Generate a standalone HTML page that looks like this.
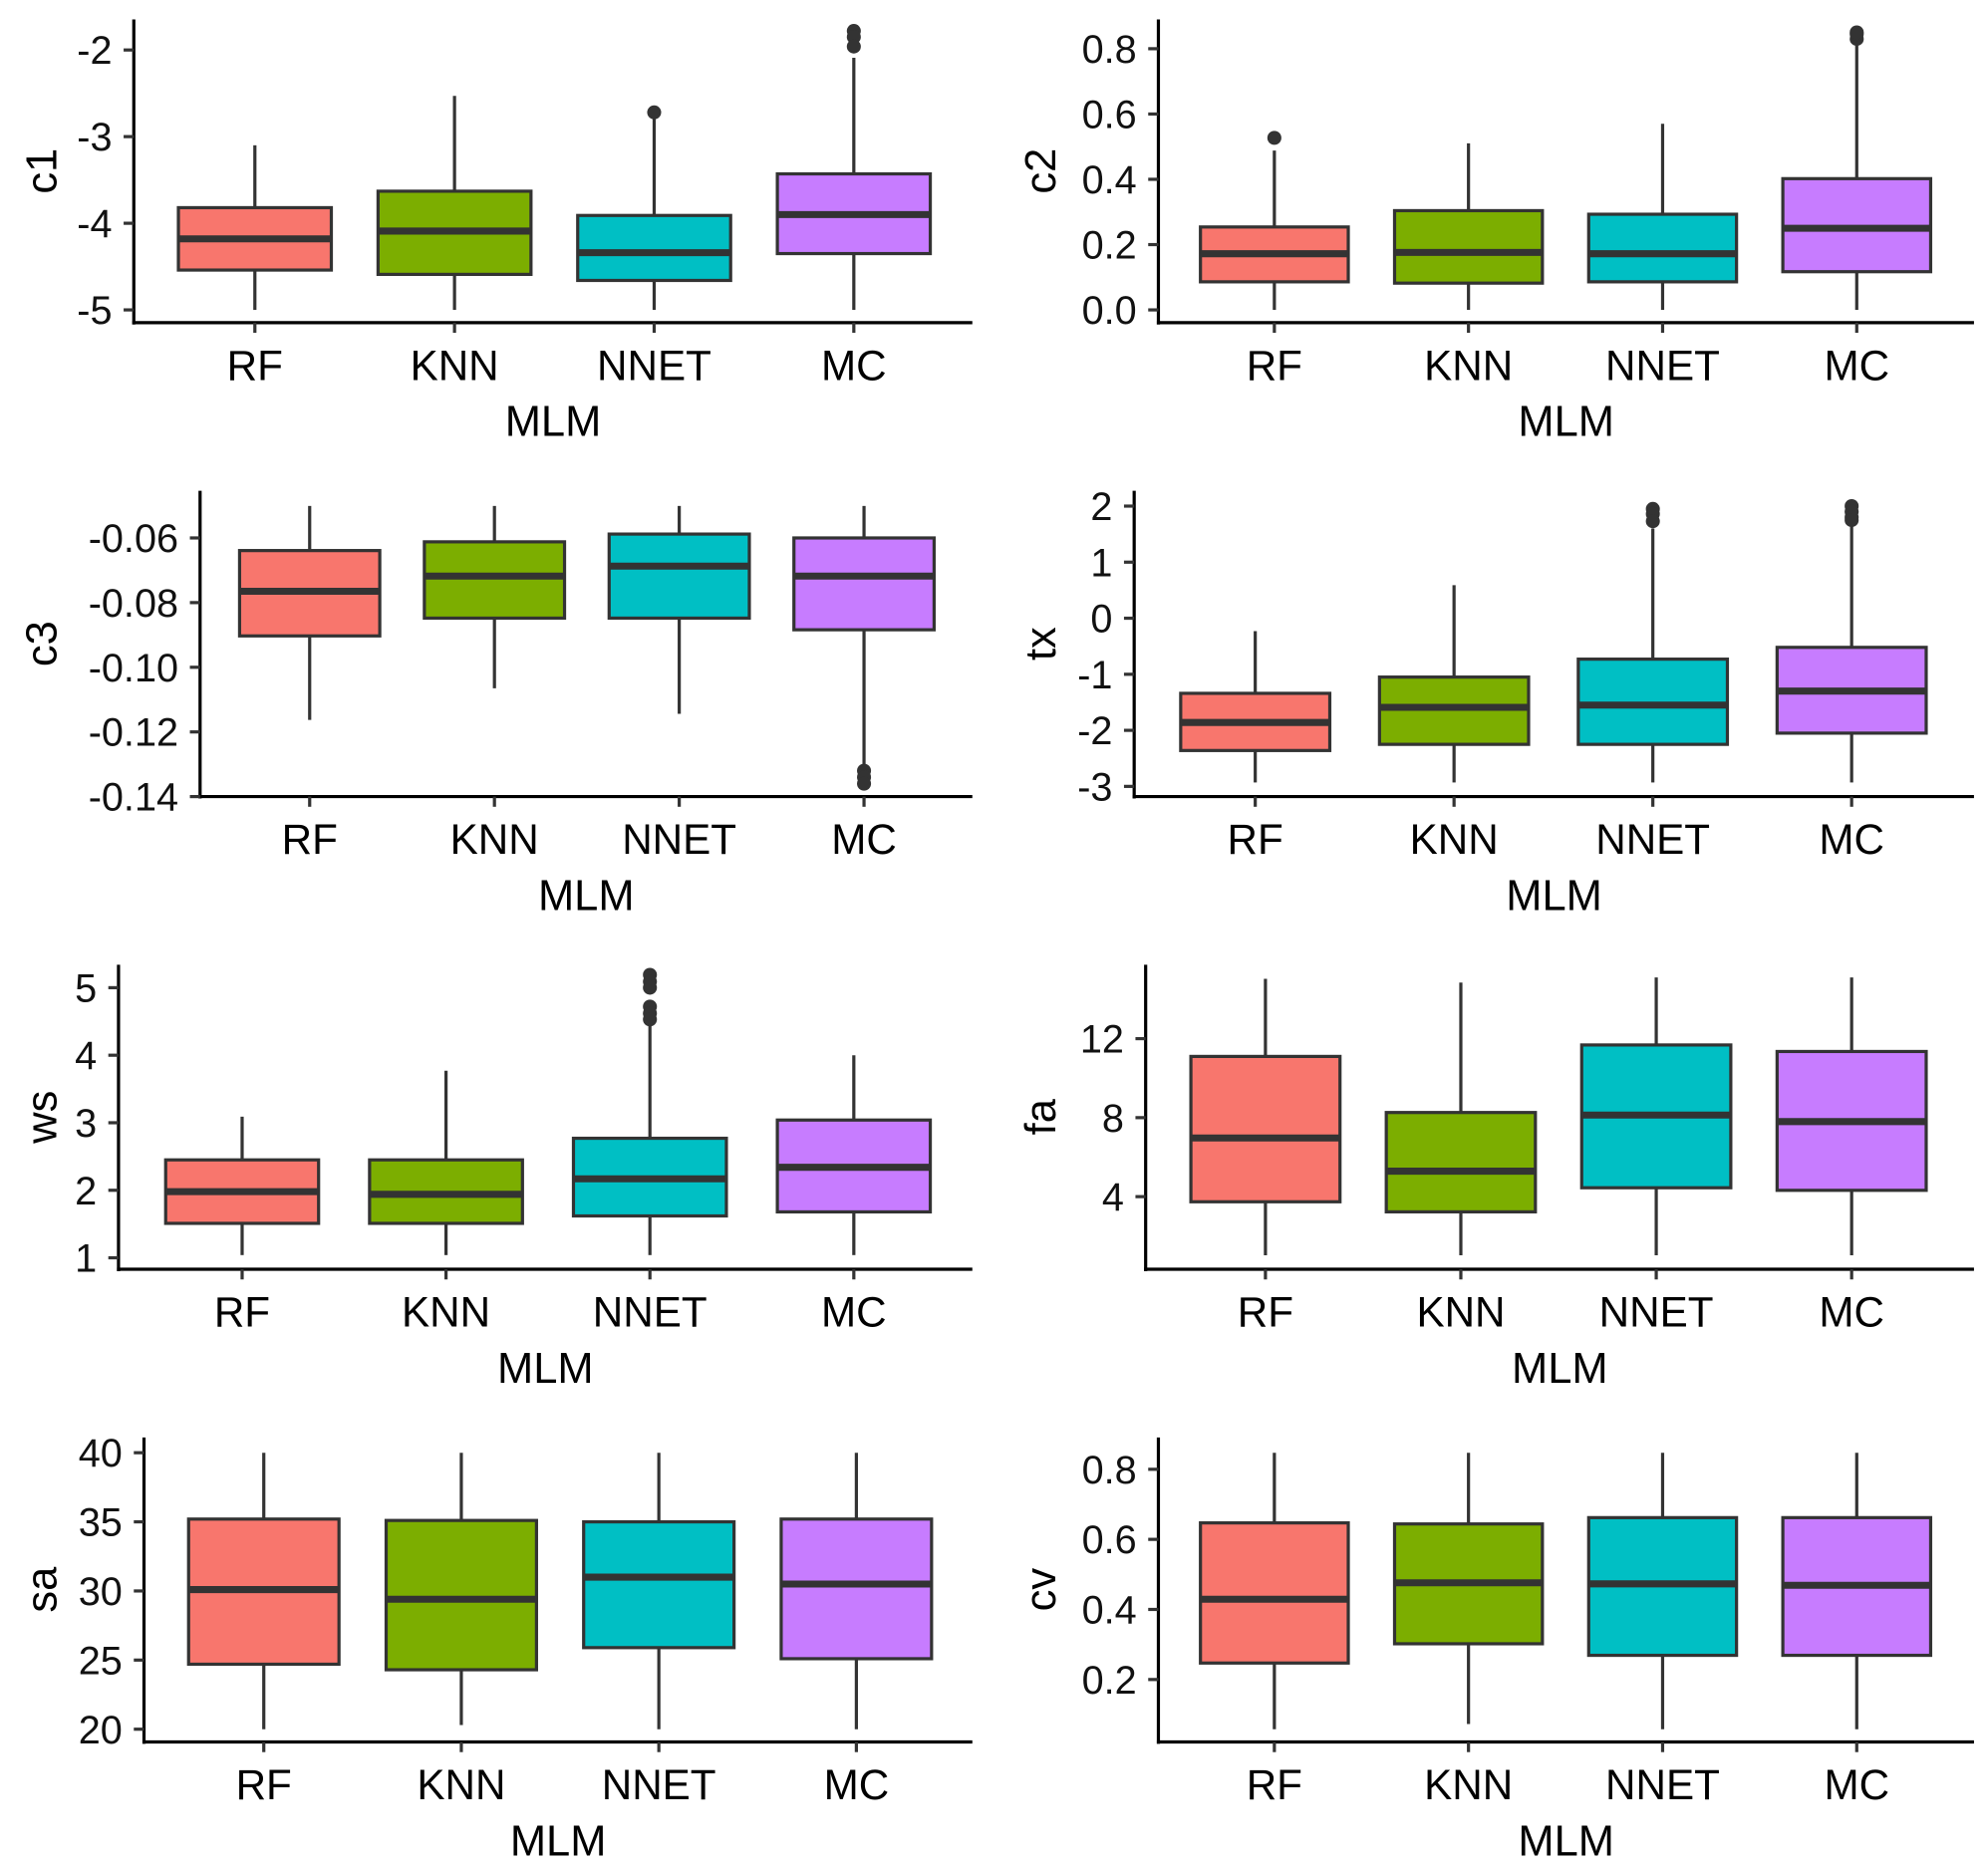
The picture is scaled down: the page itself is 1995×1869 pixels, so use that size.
<!DOCTYPE html>
<html><head><meta charset="utf-8"><style>
html,body{margin:0;padding:0;background:#fff;}
svg{display:block;font-family:"Liberation Sans",Arial,sans-serif;}
</style></head><body>
<svg id="chart" width="1995" height="1869" viewBox="0 0 1560 1461" xmlns="http://www.w3.org/2000/svg"></svg>
<script>
const categories = ["RF","KNN","NNET","MC"];
const colors = ["#F8766D","#7CAE00","#00BFC4","#C77CFF"];

// c1
const c1Lower = [-5,-5,-5,-5];
const c1Q1 = [-4.54,-4.59,-4.66,-4.35];
const c1Median = [-4.18,-4.09,-4.34,-3.9];
const c1Q3 = [-3.82,-3.63,-3.91,-3.43];
const c1Upper = [-3.1,-2.53,-2.79,-2.09];
const c1Outliers = [[],[],[-2.72],[-1.78,-1.85,-1.96]];
const c1Ticks = [-2,-3,-4,-5];
// c2
const c2Lower = [0,0,0,0];
const c2Q1 = [0.086,0.082,0.086,0.117];
const c2Median = [0.172,0.176,0.172,0.25];
const c2Q3 = [0.254,0.304,0.293,0.402];
const c2Upper = [0.488,0.51,0.57,0.81];
const c2Outliers = [[0.527],[],[],[0.83,0.845,0.85]];
const c2Ticks = [0.0,0.2,0.4,0.6,0.8];
// c3
const c3Lower = [-0.1163,-0.1065,-0.1144,-0.130];
const c3Q1 = [-0.0903,-0.0848,-0.0848,-0.0884];
const c3Median = [-0.0765,-0.0718,-0.0687,-0.0718];
const c3Q3 = [-0.0639,-0.0612,-0.0588,-0.06];
const c3Upper = [-0.0501,-0.0501,-0.0501,-0.0501];
const c3Outliers = [[],[],[],[-0.132,-0.134,-0.136]];
const c3Ticks = [-0.06,-0.08,-0.10,-0.12,-0.14];
// tx
const txLower = [-2.93,-2.93,-2.93,-2.93];
const txQ1 = [-2.36,-2.25,-2.25,-2.05];
const txMedian = [-1.86,-1.59,-1.55,-1.3];
const txQ3 = [-1.34,-1.05,-0.73,-0.52];
const txUpper = [-0.23,0.59,1.6,1.65];
const txOutliers = [[],[],[1.95,1.86,1.73],[2.0,1.9,1.8,1.75]];
const txTicks = [2,1,0,-1,-2,-3];
// ws
const wsLower = [1.04,1.04,1.04,1.04];
const wsQ1 = [1.51,1.51,1.62,1.68];
const wsMedian = [1.98,1.94,2.17,2.34];
const wsQ3 = [2.45,2.45,2.77,3.04];
const wsUpper = [3.09,3.77,4.43,4.0];
const wsOutliers = [[],[],[5.19,5.09,5.0,4.72,4.62,4.53],[]];
const wsTicks = [5,4,3,2,1];
// fa
const faLower = [1.03,1.03,1.03,1.03];
const faQ1 = [3.74,3.23,4.45,4.32];
const faMedian = [6.97,5.29,8.13,7.8];
const faQ3 = [11.1,8.26,11.68,11.35];
const faUpper = [15.03,14.84,15.1,15.1];
const faOutliers = [[],[],[],[]];
const faTicks = [12,8,4];
// sa
const saLower = [20,20.3,20,20];
const saQ1 = [24.7,24.3,25.9,25.1];
const saMedian = [30.1,29.4,31,30.5];
const saQ3 = [35.2,35.1,35,35.2];
const saUpper = [40,40,40,40];
const saOutliers = [[],[],[],[]];
const saTicks = [40,35,30,25,20];
// cv
const cvLower = [0.058,0.073,0.058,0.058];
const cvQ1 = [0.247,0.302,0.269,0.269];
const cvMedian = [0.429,0.476,0.473,0.469];
const cvQ3 = [0.647,0.644,0.662,0.662];
const cvUpper = [0.847,0.847,0.847,0.847];
const cvOutliers = [[],[],[],[]];
const cvTicks = [0.8,0.6,0.4,0.2];

const NS="http://www.w3.org/2000/svg";
const svg=document.getElementById('chart');
function mk(tag,attrs,parent){const e=document.createElementNS(NS,tag);for(const k in attrs)e.setAttribute(k,attrs[k]);parent.appendChild(e);return e;}

const panels=[
 {name:"c1",lo:c1Lower,q1:c1Q1,med:c1Median,q3:c1Q3,up:c1Upper,out:c1Outliers,ticks:c1Ticks,fmt:v=>String(v),
  left:105,right:763,top:15,bottom:253,v0:-2,p0:39,v1:-5,p1:243,cx0:200,cx1:670,bw:120,tb:44},
 {name:"c2",lo:c2Lower,q1:c2Q1,med:c2Median,q3:c2Q3,up:c2Upper,out:c2Outliers,ticks:c2Ticks,fmt:v=>v.toFixed(1),
  left:909,right:1549,top:15,bottom:253,v0:0,p0:243,v1:0.8,p1:38,cx0:1000,cx1:1457,bw:116,tb:828},
 {name:"c3",lo:c3Lower,q1:c3Q1,med:c3Median,q3:c3Q3,up:c3Upper,out:c3Outliers,ticks:c3Ticks,fmt:v=>v.toFixed(2),
  left:157,right:763,top:385,bottom:625,v0:-0.06,p0:422,v1:-0.14,p1:625,cx0:243,cx1:678,bw:110,tb:44},
 {name:"tx",lo:txLower,q1:txQ1,med:txMedian,q3:txQ3,up:txUpper,out:txOutliers,ticks:txTicks,fmt:v=>String(v),
  left:890,right:1549,top:385,bottom:625,v0:2,p0:397,v1:-3,p1:617,cx0:985,cx1:1453,bw:117,tb:828},
 {name:"ws",lo:wsLower,q1:wsQ1,med:wsMedian,q3:wsQ3,up:wsUpper,out:wsOutliers,ticks:wsTicks,fmt:v=>String(v),
  left:93,right:763,top:757,bottom:996,v0:5,p0:775,v1:1,p1:987,cx0:190,cx1:670,bw:120,tb:44},
 {name:"fa",lo:faLower,q1:faQ1,med:faMedian,q3:faQ3,up:faUpper,out:faOutliers,ticks:faTicks,fmt:v=>String(v),
  left:899,right:1549,top:757,bottom:996,v0:12,p0:815,v1:4,p1:939,cx0:993,cx1:1453,bw:117,tb:828},
 {name:"sa",lo:saLower,q1:saQ1,med:saMedian,q3:saQ3,up:saUpper,out:saOutliers,ticks:saTicks,fmt:v=>String(v),
  left:113,right:763,top:1128,bottom:1367,v0:40,p0:1140,v1:20,p1:1357,cx0:207,cx1:672,bw:118,tb:44},
 {name:"cv",lo:cvLower,q1:cvQ1,med:cvMedian,q3:cvQ3,up:cvUpper,out:cvOutliers,ticks:cvTicks,fmt:v=>v.toFixed(1),
  left:909,right:1549,top:1128,bottom:1367,v0:0.8,p0:1153,v1:0.2,p1:1318,cx0:1000,cx1:1457,bw:116,tb:828}
];

panels.forEach(p=>{
  const g=mk('g',{},svg);
  
  
  const y=v=>p.p0+(v-p.v0)*(p.p1-p.p0)/(p.v1-p.v0);
  const x=i=>p.cx0+i*(p.cx1-p.cx0)/(categories.length-1);
  const lc="#333333";
  categories.forEach((c,i)=>{
    const bg=mk('g',{},g);
    
    
    const cx=x(i);
    mk('line',{x1:cx,x2:cx,y1:y(p.up[i]),y2:y(p.q3[i]),stroke:lc,'stroke-width':2.5},bg);
    mk('line',{x1:cx,x2:cx,y1:y(p.q1[i]),y2:y(p.lo[i]),stroke:lc,'stroke-width':2.5},bg);
    const yt=y(p.q3[i]),yb=y(p.q1[i]);
    mk('rect',{x:cx-p.bw/2,y:Math.min(yt,yb),width:p.bw,height:Math.abs(yb-yt),fill:colors[i],stroke:lc,'stroke-width':2.5},bg);
    mk('line',{x1:cx-p.bw/2,x2:cx+p.bw/2,y1:y(p.med[i]),y2:y(p.med[i]),stroke:lc,'stroke-width':5.5},bg);
    p.out[i].forEach(o=>{
      const pt=mk('circle',{cx:cx,cy:y(o),r:5.5,fill:lc},bg);
      
      
    });
  });
  const ya=mk('line',{x1:p.left,x2:p.left,y1:p.top,y2:p.bottom+1.5,stroke:'#000','stroke-width':2.5},g);
  
  
  const xa=mk('line',{x1:p.left-1.2,x2:p.right,y1:p.bottom,y2:p.bottom,stroke:'#000','stroke-width':2.5},g);
  
  
  p.ticks.forEach(t=>{
    const ty=y(t);
    mk('line',{x1:p.left-8,x2:p.left,y1:ty,y2:ty,stroke:lc,'stroke-width':2.5},g);
    const tl=mk('text',{x:p.left-17,y:ty+11,'text-anchor':'end','font-size':31,fill:'#111'},g);
    tl.textContent=p.fmt(t);
    
    
  });
  categories.forEach((c,i)=>{
    const cx=x(i);
    mk('line',{x1:cx,x2:cx,y1:p.bottom,y2:p.bottom+8,stroke:lc,'stroke-width':2.5},g);
    const tl=mk('text',{x:cx,y:p.bottom+45,'text-anchor':'middle','font-size':33,fill:'#000'},g);
    tl.textContent=c;
    
    
  });
  const xt=mk('text',{x:(p.left+p.right)/2,y:p.bottom+89,'text-anchor':'middle','font-size':34,fill:'#000'},g);
  xt.textContent="MLM";
  
  
  const cy=(p.top+p.bottom)/2;
  const yt=mk('text',{x:p.tb,y:cy,'text-anchor':'middle','font-size':34,fill:'#000',transform:'rotate(-90 '+p.tb+' '+cy+')'},g);
  yt.textContent=p.name;
  
  
});
</script>
</body></html>
